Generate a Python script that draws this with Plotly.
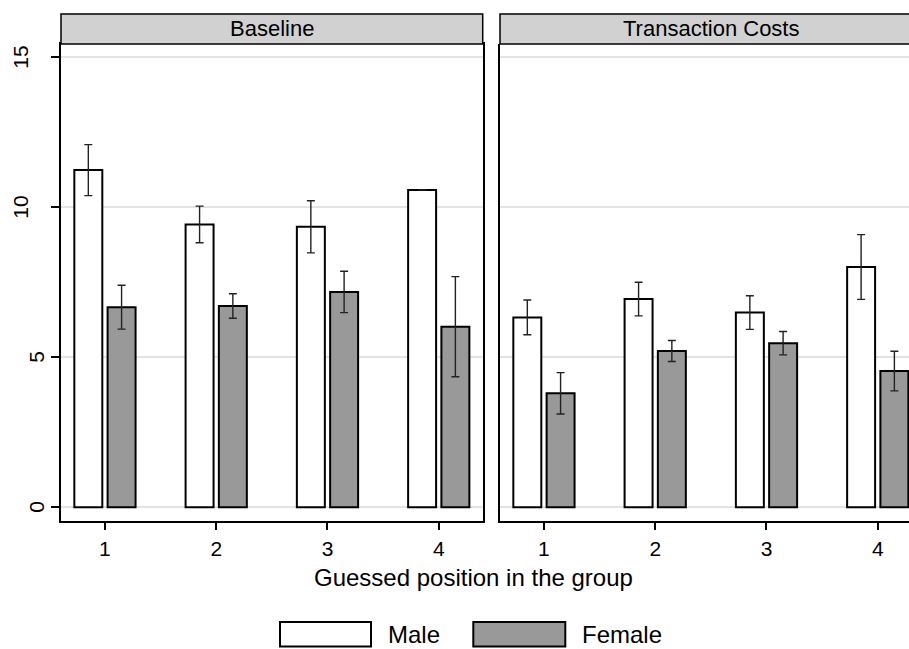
import plotly.graph_objects as go

# ---- data ----
positions = [1, 2, 3, 4]
tick_labels = ["1", "2", "3", "4"]
panel_titles = ["Baseline", "Transaction Costs"]
series_names = ["Male", "Female"]

baseline_male = [11.24, 9.43, 9.35, 10.58]
baseline_male_err = [0.85, 0.61, 0.87, None]
baseline_female = [6.67, 6.71, 7.18, 6.02]
baseline_female_err = [0.73, 0.41, 0.69, 1.67]

tc_male = [6.33, 6.94, 6.49, 8.01]
tc_male_err = [0.58, 0.56, 0.56, 1.08]
tc_female = [3.80, 5.21, 5.47, 4.54]
tc_female_err = [0.69, 0.35, 0.39, 0.66]

y_ticks = [0, 5, 10, 15]
y_tick_labels = ["0", "5", "10", "15"]
x_title = "Guessed position in the group"

# ---- styling ----
W, H = 909, 649
FONT = "Liberation Sans, Arial, sans-serif"
male_fill = "#ffffff"
female_fill = "#999999"
err_color = "#222222"
grid_color = "#e3e3e3"
strip_fill = "#d1d1d1"

def px_x(p):
    return p / W

def px_y(p):
    return 1 - p / H

left_dom = [px_x(61), px_x(482.7)]
right_dom = [px_x(500), 1.0]
y_dom = [px_y(520.7), px_y(44)]
y_range = [-0.447, 15.443]
x_range_left = [0.605, 4.395]
x_range_right = [0.605, 0.605 + (409 / 421.7) * 3.79]

fig = go.Figure()

def add_bars(xa, ya, male, male_err, female, female_err):
    fig.add_trace(go.Bar(
        x=positions, y=male, name=series_names[0], xaxis=xa, yaxis=ya,
        marker=dict(color=male_fill, line=dict(color="black", width=2)),
        error_y=dict(type="data", array=male_err, visible=True,
                     color=err_color, thickness=1.4, width=4),
        showlegend=False,
    ))
    fig.add_trace(go.Bar(
        x=positions, y=female, name=series_names[1], xaxis=xa, yaxis=ya,
        marker=dict(color=female_fill, line=dict(color="black", width=2)),
        error_y=dict(type="data", array=female_err, visible=True,
                     color=err_color, thickness=1.4, width=4),
        showlegend=False,
    ))

add_bars("x", "y", baseline_male, baseline_male_err, baseline_female, baseline_female_err)
add_bars("x2", "y2", tc_male, tc_male_err, tc_female, tc_female_err)

axis_font = dict(family=FONT, size=21, color="black")

fig.update_layout(
    width=W, height=H,
    margin=dict(l=0, r=0, t=0, b=0),
    paper_bgcolor="white", plot_bgcolor="white",
    barmode="group", bargap=0.402, bargroupgap=0.159,
    font=dict(family=FONT, color="black"),
    showlegend=False,
    xaxis=dict(domain=left_dom, range=x_range_left, tickvals=positions, ticktext=tick_labels,
               ticks="outside", ticklen=8, tickwidth=1.5, tickcolor="black",
               showline=True, linecolor="black", linewidth=1.5, mirror=True,
               showgrid=False, zeroline=False, tickfont=axis_font, anchor="y"),
    yaxis=dict(domain=y_dom, range=y_range, tickvals=y_ticks, showticklabels=False,
               ticks="outside", ticklen=8, tickwidth=1.5, tickcolor="black",
               showline=True, linecolor="black", linewidth=1.5, mirror=True,
               showgrid=True, gridcolor=grid_color, gridwidth=1.5,
               zeroline=False, anchor="x"),
    xaxis2=dict(domain=right_dom, range=x_range_right, tickvals=positions, ticktext=tick_labels,
                ticks="outside", ticklen=8, tickwidth=1.5, tickcolor="black",
                showline=True, linecolor="black", linewidth=1.5, mirror=False,
                showgrid=False, zeroline=False, tickfont=axis_font, anchor="y2"),
    yaxis2=dict(domain=y_dom, range=y_range, tickvals=y_ticks, showticklabels=False,
                ticks="",
                showline=True, linecolor="black", linewidth=1.5, mirror=False,
                showgrid=True, gridcolor=grid_color, gridwidth=1.5,
                zeroline=False, anchor="x2"),
)

shapes = []
annotations = []

# y tick labels (rotated, Stata-like placement)
for v, lab in zip(y_ticks, y_tick_labels):
    cx = 20.5 if len(lab) > 1 else 36.5
    annotations.append(dict(text=lab, xref="paper", yref="y", x=px_x(cx), y=v,
                            showarrow=False, xanchor="center", yanchor="middle",
                            textangle=-90, font=axis_font))

# strips
for (x0, x1), title in zip([(px_x(61), px_x(482.7)), (px_x(500), 1.03)], panel_titles):
    shapes.append(dict(type="rect", xref="paper", yref="paper",
                       x0=x0, x1=x1, y0=px_y(44), y1=px_y(14),
                       fillcolor=strip_fill, line=dict(color="black", width=1.5), layer="above"))
    cx = (x0 + min(x1, px_x(922))) / 2
    annotations.append(dict(text=title, xref="paper", yref="paper", x=cx, y=px_y(29),
                            showarrow=False, xanchor="center", yanchor="middle",
                            font=dict(family=FONT, size=22, color="black")))

# x axis title
annotations.append(dict(text=x_title, xref="paper", yref="paper", x=px_x(473), y=px_y(577),
                        showarrow=False, xanchor="center", yanchor="middle",
                        font=dict(family=FONT, size=24, color="black")))

# legend
for (bx0, bx1, tx), name, fill in zip([(280, 371, 386), (473.3, 565.3, 580)], series_names,
                                      [male_fill, female_fill]):
    shapes.append(dict(type="rect", xref="paper", yref="paper",
                       x0=px_x(bx0), x1=px_x(bx1), y0=px_y(646.5), y1=px_y(622),
                       fillcolor=fill, line=dict(color="black", width=2)))
    annotations.append(dict(text=name, xref="paper", yref="paper", x=px_x(tx), y=px_y(634),
                            showarrow=False, xanchor="left", yanchor="middle",
                            font=dict(family=FONT, size=24, color="black")))

fig.update_layout(shapes=shapes, annotations=annotations)

fig.write_html("out.html", config={"displayModeBar": False},
               post_script="document.body.style.margin='0';document.body.style.overflow='hidden';")
